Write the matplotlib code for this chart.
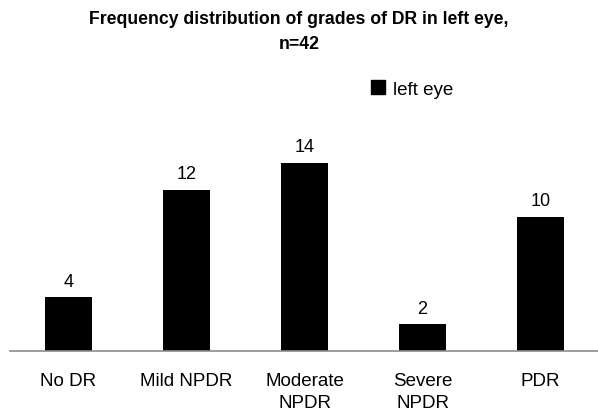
import matplotlib
matplotlib.use("Agg")
import matplotlib.pyplot as plt
from matplotlib.patches import Patch

categories = ["No DR", "Mild NPDR", "Moderate\nNPDR", "Severe\nNPDR", "PDR"]
values = [4, 12, 14, 2, 10]
series_name = "left eye"
title = "Frequency distribution of grades of DR in left eye,\nn=42"

plt.rcParams['font.family'] = ['Liberation Sans', 'DejaVu Sans']

fig = plt.figure(figsize=(5.98, 4.14), dpi=100)
ax = fig.add_axes([9.5/598, 62/414, 590/598, 215/414])
x = list(range(len(categories)))
ax.bar(x, values, width=0.40, color="black")
ax.set_xlim(-0.5, len(categories) - 0.5)
ax.set_ylim(0, 16)
for xi, v in zip(x, values):
    ax.text(xi, v + 0.55, str(v), ha="center", va="bottom", fontsize=13)
ax.set_xticks(x)
ax.set_xticklabels(categories, fontsize=13.5, linespacing=1.4)
ax.tick_params(axis="x", length=0, pad=15)
ax.set_yticks([])
for s in ["top", "right", "left"]:
    ax.spines[s].set_visible(False)
ax.spines["bottom"].set_color("#8c8c8c")
ax.spines["bottom"].set_linewidth(1.2)

fig.text(0.5, 1 - 32/414, title, ha="center", va="center", fontsize=12.7,
         fontweight="bold", linespacing=1.6)
fig.legend(handles=[Patch(color="black", label=series_name)], loc="center",
           bbox_to_anchor=(412/598, 1 - 90/414), frameon=False, fontsize=13.5,
           handlelength=0.75, handleheight=0.75, handletextpad=0.4)
fig.savefig("out.png", dpi=100)
